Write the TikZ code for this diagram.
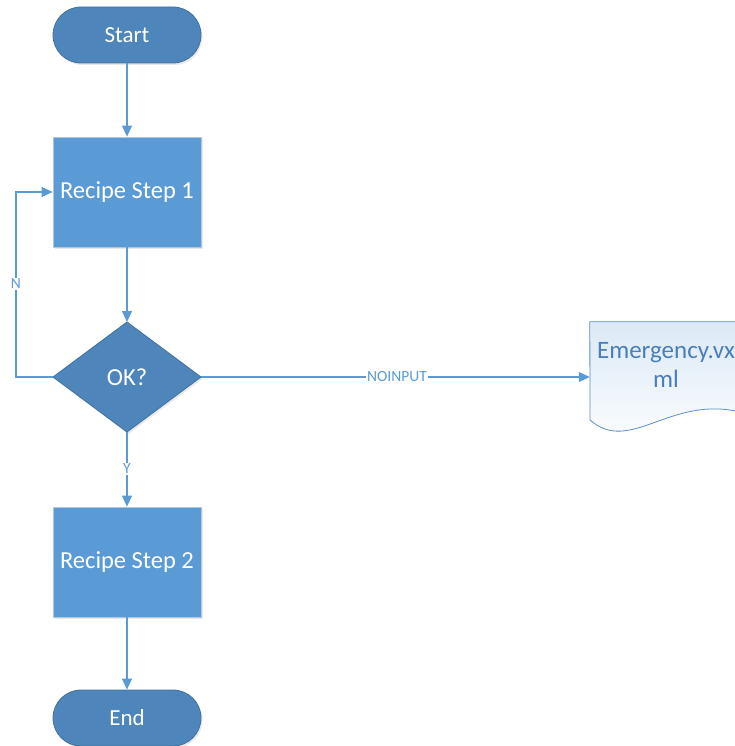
\documentclass[tikz,border=0pt]{standalone}
\usepackage{fontspec}
\setmainfont{Carlito}
\usetikzlibrary{arrows.meta,shapes.geometric,shadows}
\definecolor{termfill}{HTML}{4E86BB}
\definecolor{termline}{HTML}{41719C}
\definecolor{procfill}{HTML}{5B9BD5}
\definecolor{procline}{HTML}{B4C6DA}
\definecolor{link}{HTML}{5B9BD5}
\definecolor{doctext}{HTML}{4A7EBB}
\definecolor{docline}{HTML}{5B8FC8}
\tikzset{
  softshadow/.style={drop shadow={opacity=0.18,shadow xshift=1.5pt,shadow yshift=-2pt}},
  terminal/.style={draw=termline,line width=0.8pt,fill=termfill,rounded corners=28pt,
    minimum width=148pt,minimum height=56pt,text=white,font=\fontsize{23}{26}\selectfont,
    inner sep=0pt,softshadow},
  process/.style={draw=procline,line width=0.8pt,fill=procfill,minimum width=148pt,
    minimum height=110pt,text=white,font=\fontsize{24.5}{28}\selectfont,inner sep=0pt,softshadow},
  flow/.style={draw=link,line width=1.1pt,-{Triangle[length=11pt,width=10pt]}},
  flowlabel/.style={fill=white,text=link,font=\fontsize{15.5}{18}\selectfont,inner sep=1pt}
}
\begin{document}
\begin{tikzpicture}[x=1pt,y=-1pt]
\useasboundingbox (0,0) rectangle (734,746);
% flowchart shapes
\node[terminal] (start) at (127,35) {Start};
\node[process] (step1) at (127,192) {Recipe Step 1};
% decision diamond
\path[draw=termline,line width=0.8pt,fill=termfill,softshadow]
  (53,377) -- (127,322) -- (201,377) -- (127,432) -- cycle;
\node[text=white,font=\fontsize{24.5}{28}\selectfont] (ok) at (127,377) {OK?};
\coordinate (okW) at (53,377);
\coordinate (okE) at (201,377);
\coordinate (okN) at (127,322);
\coordinate (okS) at (127,432);
\node[process] (step2) at (127,562) {Recipe Step 2};
\node[terminal] (end) at (127,718) {End};
% document shape (wavy bottom)
\node[minimum width=150pt,minimum height=110pt,inner sep=0pt] (doc) at (665,377) {};
\path[draw=docline,line width=0.8pt,top color=procfill!22,bottom color=white]
  (doc.north west) -- (doc.north east) -- (740,412)
  .. controls (670,395) and (630,455) .. (590,420) -- cycle;
\node[text=doctext,font=\fontsize{25}{29}\selectfont,align=center] (doctext) at (666,365)
  {Emergency.vx\\ml};
% connectors
\draw[flow] (start.south) -- (step1.north);
\draw[flow] (step1.south) -- (okN);
\coordinate (loopB) at (16,377);
\coordinate (loopT) at (16,192);
\draw[flow] (okW) -- (loopB) -- (loopT) -- (step1.west);
\node[flowlabel] (nlab) at (16,284) {N};
\draw[flow] (okE) -- (doc.west);
\node[flowlabel] (nolab) at (397,377) {NOINPUT};
\draw[flow] (okS) -- (step2.north);
\node[flowlabel] (ylab) at (127,469) {Y};
\draw[flow] (step2.south) -- (end.north);
\end{tikzpicture}
\end{document}
